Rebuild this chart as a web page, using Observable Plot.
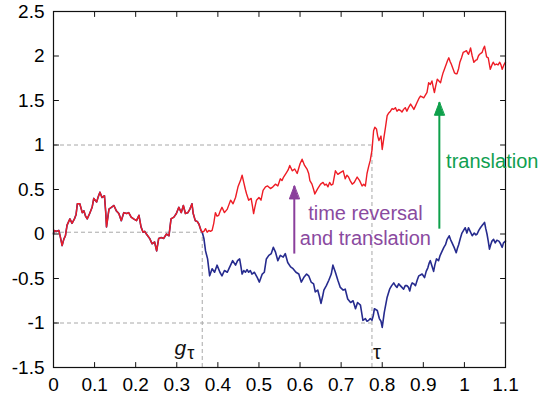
<!DOCTYPE html>
<html><head><meta charset="utf-8">
<script src="https://cdn.jsdelivr.net/npm/d3@7"></script>
<script src="https://cdn.jsdelivr.net/npm/@observablehq/plot@0.6"></script>
<style>body{margin:0;background:#fff}</style>
</head><body><div id="chart"></div>
<script>
const xTicks = [0,0.1,0.2,0.3,0.4,0.5,0.6,0.7,0.8,0.9,1,1.1];
const xTickLabels = ["0","0.1","0.2","0.3","0.4","0.5","0.6","0.7","0.8","0.9","1","1.1"];
const yTicks = [-1.5,-1,-0.5,0,0.5,1,1.5,2,2.5];
const yTickLabels = ["-1.5","-1","-0.5","0","0.5","1","1.5","2","2.5"];

const gTau = 0.362, tau = 0.775;

// shared path before g_tau (t, value)
const commonPath = [[0,0.0],[0.001,0.04],[0.007,0.03],[0.013,0.04],[0.017,-0.04],[0.021,-0.13],[0.025,-0.06],[0.029,-0.02],[0.033,0.1],[0.04,0.17],[0.045,0.12],[0.051,0.17],[0.055,0.22],[0.058,0.34],[0.064,0.34],[0.07,0.24],[0.074,0.26],[0.078,0.2],[0.082,0.17],[0.088,0.23],[0.094,0.3],[0.098,0.4],[0.105,0.36],[0.109,0.42],[0.113,0.47],[0.118,0.41],[0.124,0.43],[0.127,0.25],[0.129,0.08],[0.135,0.28],[0.141,0.3],[0.147,0.32],[0.153,0.26],[0.159,0.23],[0.165,0.15],[0.171,0.24],[0.178,0.23],[0.183,0.24],[0.189,0.19],[0.195,0.17],[0.202,0.15],[0.208,0.21],[0.213,0.08],[0.218,0.02],[0.222,0.03],[0.226,0.0],[0.234,-0.05],[0.24,-0.11],[0.246,-0.09],[0.251,-0.19],[0.256,-0.05],[0.262,-0.04],[0.268,-0.05],[0.275,0.0],[0.281,-0.02],[0.286,0.17],[0.293,0.19],[0.299,0.23],[0.305,0.3],[0.311,0.24],[0.316,0.32],[0.321,0.23],[0.327,0.24],[0.332,0.28],[0.337,0.34],[0.34,0.23],[0.345,0.15],[0.35,0.14],[0.354,0.11],[0.359,0.04],[0.362,0.02]];

// blue path after g_tau
const bluePath = [[0.366,-0.05],[0.37,-0.19],[0.375,-0.28],[0.38,-0.47],[0.386,-0.39],[0.392,-0.43],[0.398,-0.35],[0.405,-0.43],[0.41,-0.47],[0.416,-0.41],[0.423,-0.43],[0.427,-0.39],[0.431,-0.35],[0.436,-0.3],[0.443,-0.35],[0.448,-0.3],[0.453,-0.28],[0.456,-0.36],[0.459,-0.45],[0.463,-0.41],[0.467,-0.43],[0.471,-0.4],[0.475,-0.43],[0.479,-0.41],[0.483,-0.45],[0.489,-0.43],[0.496,-0.49],[0.501,-0.54],[0.508,-0.45],[0.513,-0.43],[0.518,-0.28],[0.524,-0.24],[0.53,-0.22],[0.535,-0.15],[0.54,-0.2],[0.546,-0.3],[0.552,-0.24],[0.559,-0.26],[0.564,-0.22],[0.57,-0.32],[0.577,-0.37],[0.583,-0.39],[0.59,-0.43],[0.597,-0.45],[0.603,-0.54],[0.609,-0.49],[0.616,-0.45],[0.621,-0.47],[0.627,-0.54],[0.633,-0.56],[0.637,-0.65],[0.643,-0.63],[0.647,-0.7],[0.651,-0.78],[0.655,-0.7],[0.658,-0.63],[0.664,-0.58],[0.67,-0.52],[0.676,-0.45],[0.68,-0.35],[0.686,-0.43],[0.692,-0.52],[0.698,-0.6],[0.705,-0.63],[0.71,-0.62],[0.716,-0.73],[0.723,-0.77],[0.729,-0.75],[0.735,-0.84],[0.74,-0.77],[0.747,-0.8],[0.753,-0.97],[0.759,-0.95],[0.763,-0.98],[0.767,-0.97],[0.771,-0.95],[0.775,-0.97],[0.778,-0.92],[0.781,-0.84],[0.788,-0.86],[0.793,-0.95],[0.797,-0.98],[0.8,-1.05],[0.805,-0.88],[0.812,-0.71],[0.818,-0.62],[0.823,-0.58],[0.828,-0.55],[0.832,-0.58],[0.836,-0.6],[0.84,-0.56],[0.844,-0.58],[0.848,-0.6],[0.852,-0.62],[0.856,-0.58],[0.86,-0.58],[0.864,-0.6],[0.867,-0.64],[0.87,-0.58],[0.873,-0.55],[0.877,-0.56],[0.881,-0.58],[0.885,-0.52],[0.889,-0.47],[0.893,-0.46],[0.897,-0.45],[0.9,-0.47],[0.903,-0.49],[0.907,-0.42],[0.911,-0.38],[0.914,-0.33],[0.917,-0.3],[0.921,-0.36],[0.925,-0.42],[0.928,-0.35],[0.932,-0.28],[0.937,-0.3],[0.941,-0.24],[0.946,-0.19],[0.95,-0.15],[0.954,-0.12],[0.958,-0.06],[0.963,-0.02],[0.966,-0.06],[0.97,-0.1],[0.975,-0.15],[0.98,-0.21],[0.983,-0.16],[0.986,-0.12],[0.99,-0.05],[0.994,0.01],[0.998,0.04],[1.002,0.07],[1.006,0.01],[1.01,0.07],[1.014,0.03],[1.019,-0.02],[1.024,0.01],[1.028,-0.01],[1.031,0.0],[1.035,0.04],[1.039,0.07],[1.044,0.1],[1.049,0.13],[1.052,0.06],[1.055,0.0],[1.058,-0.08],[1.061,-0.17],[1.064,-0.12],[1.067,-0.08],[1.071,-0.06],[1.075,-0.1],[1.079,-0.07],[1.084,-0.08],[1.088,-0.11],[1.092,-0.15],[1.095,-0.1],[1.1,-0.08]];

// red path after g_tau
const redPath = [[0.366,0.03],[0.37,0.06],[0.374,0.02],[0.378,0.04],[0.382,0.03],[0.386,0.04],[0.39,0.12],[0.394,0.24],[0.398,0.2],[0.402,0.21],[0.406,0.26],[0.41,0.3],[0.416,0.24],[0.423,0.28],[0.427,0.33],[0.431,0.38],[0.437,0.34],[0.443,0.41],[0.449,0.53],[0.455,0.6],[0.459,0.66],[0.463,0.58],[0.467,0.5],[0.47,0.45],[0.475,0.38],[0.481,0.4],[0.484,0.32],[0.487,0.23],[0.49,0.3],[0.494,0.38],[0.5,0.41],[0.505,0.38],[0.51,0.49],[0.516,0.53],[0.521,0.54],[0.528,0.51],[0.534,0.53],[0.54,0.56],[0.546,0.54],[0.552,0.62],[0.556,0.6],[0.56,0.64],[0.567,0.69],[0.571,0.72],[0.575,0.77],[0.581,0.71],[0.587,0.73],[0.593,0.68],[0.6,0.79],[0.605,0.84],[0.611,0.77],[0.617,0.73],[0.621,0.68],[0.624,0.6],[0.629,0.56],[0.633,0.5],[0.636,0.45],[0.643,0.51],[0.65,0.56],[0.656,0.58],[0.66,0.55],[0.664,0.56],[0.668,0.53],[0.672,0.58],[0.676,0.55],[0.68,0.56],[0.686,0.71],[0.692,0.67],[0.698,0.69],[0.705,0.71],[0.71,0.62],[0.714,0.66],[0.718,0.64],[0.722,0.6],[0.727,0.56],[0.732,0.58],[0.739,0.64],[0.745,0.6],[0.751,0.54],[0.755,0.56],[0.759,0.54],[0.763,0.68],[0.767,0.76],[0.771,0.83],[0.775,0.94],[0.779,1.16],[0.782,1.2],[0.786,1.18],[0.789,1.1],[0.792,1.05],[0.795,1.08],[0.797,1.1],[0.8,0.95],[0.804,1.08],[0.808,1.2],[0.812,1.33],[0.816,1.36],[0.82,1.38],[0.824,1.41],[0.828,1.4],[0.832,1.42],[0.836,1.38],[0.84,1.4],[0.844,1.39],[0.848,1.37],[0.852,1.4],[0.856,1.42],[0.86,1.38],[0.864,1.42],[0.869,1.46],[0.873,1.43],[0.877,1.4],[0.881,1.44],[0.885,1.48],[0.889,1.52],[0.893,1.55],[0.897,1.54],[0.901,1.53],[0.905,1.56],[0.909,1.59],[0.913,1.7],[0.917,1.68],[0.921,1.72],[0.924,1.65],[0.927,1.59],[0.93,1.66],[0.934,1.74],[0.938,1.72],[0.942,1.7],[0.945,1.76],[0.948,1.81],[0.952,1.86],[0.956,1.91],[0.959,1.95],[0.962,1.98],[0.965,1.94],[0.968,1.91],[0.972,1.86],[0.976,1.81],[0.979,1.8],[0.982,1.8],[0.986,1.86],[0.989,1.93],[0.993,1.98],[0.997,2.04],[1.001,2.05],[1.005,2.06],[1.008,2.03],[1.01,2.02],[1.013,2.06],[1.015,2.09],[1.019,2.0],[1.023,1.93],[1.027,1.95],[1.031,1.96],[1.034,2.0],[1.037,2.02],[1.04,2.03],[1.043,2.04],[1.046,2.08],[1.049,2.11],[1.052,2.04],[1.054,1.99],[1.058,1.98],[1.061,1.9],[1.063,1.85],[1.067,1.9],[1.07,1.93],[1.074,1.9],[1.078,1.91],[1.082,1.9],[1.086,1.93],[1.089,1.9],[1.092,1.85],[1.096,1.9],[1.1,1.93]];

// dashed guide lines
const hGuides = [{y:1, x1:0, x2:tau}, {y:0.02, x1:0, x2:gTau}, {y:-1, x1:0, x2:tau}];
const vGuides = [{x:gTau, y1:-1.5, y2:0.02}, {x:tau, y1:-1.5, y2:1}];

// annotation arrows (x, from, to)
const arrows = [
  {x:0.586, y1:-0.22, y2:0.54, color:"#8a3f9c"},
  {x:0.939, y1:0.06, y2:1.48, color:"#0ea04b"}
];

const toRows = a => a.map(([t, v]) => ({t, v}));
const blueRows = toRows(commonPath.concat(bluePath));
const redRows = toRows(commonPath.concat(redPath));

const tickLine = {draw(ctx, l) { ctx.moveTo(0, 0); ctx.lineTo(0, -l); }};
const head = {draw(ctx, l) { ctx.moveTo(0, 0); ctx.lineTo(-l * 0.38, l); ctx.lineTo(l * 0.38, l); ctx.closePath(); }};

const chart = Plot.plot({
  width: 539, height: 401,
  marginLeft: 53, marginRight: 34, marginTop: 11, marginBottom: 34,
  style: {fontFamily: "'Liberation Sans', Arial, sans-serif", fontSize: "19px", background: "white", color: "black"},
  x: {domain: [0, 1.1], label: null},
  y: {domain: [-1.5, 2.5], label: null},
  marks: [
    Plot.ruleY(hGuides, {y: "y", x1: "x1", x2: "x2", stroke: "#a8a8a8", strokeDasharray: "4,3", strokeWidth: 1}),
    Plot.ruleX(vGuides, {x: "x", y1: "y1", y2: "y2", stroke: "#a8a8a8", strokeDasharray: "4,3", strokeWidth: 1}),
    Plot.line(blueRows, {x: "t", y: "v", stroke: "#262b8e", strokeWidth: 1.6}),
    Plot.line(redRows, {x: "t", y: "v", stroke: "#ee1c25", strokeWidth: 1.4}),
    Plot.frame({stroke: "#111", strokeWidth: 1.2}),
    Plot.vector(xTicks, {x: d => d, y: -1.5, length: 5, rotate: 0, anchor: "start", shape: tickLine, stroke: "#111", strokeWidth: 1}),
    Plot.vector(xTicks, {x: d => d, y: 2.5, length: 5, rotate: 180, anchor: "start", shape: tickLine, stroke: "#111", strokeWidth: 1}),
    Plot.vector(yTicks, {x: 0, y: d => d, length: 5, rotate: 90, anchor: "start", shape: tickLine, stroke: "#111", strokeWidth: 1}),
    Plot.vector(yTicks, {x: 1.1, y: d => d, length: 5, rotate: -90, anchor: "start", shape: tickLine, stroke: "#111", strokeWidth: 1}),
    Plot.axisX(xTicks, {anchor: "bottom", tickSize: 0, tickPadding: 10, tickFormat: d => xTickLabels[xTicks.indexOf(d)], fontSize: 19, label: null}),
    Plot.axisY(yTicks, {anchor: "left", tickSize: 0, tickPadding: 9, tickFormat: d => yTickLabels[yTicks.indexOf(d)], fontSize: 19, label: null}),
    Plot.link(arrows, {x1: "x", x2: "x", y1: "y1", y2: "y2", stroke: "color", strokeWidth: 2}),
    Plot.vector(arrows, {x: "x", y: "y2", length: 13, rotate: 0, anchor: "start", shape: head, fill: "color", stroke: "color", strokeWidth: 1}),
    Plot.text(["time reversal\nand translation"], {x: 0.759, y: -0.129, text: d => d, lineAnchor: "bottom", textAnchor: "middle", lineHeight: 1.25, fontSize: 20, fill: "#8a4a9f"}),
    Plot.text(["translation"], {x: 0.9555, y: 0.736, text: d => d, lineAnchor: "bottom", textAnchor: "start", fontSize: 20, fill: "#10a050"}),
    Plot.text(["g"], {x: gTau, y: -1.365, text: d => d, dx: -16, lineAnchor: "bottom", textAnchor: "end", fontSize: 21, fontStyle: "italic", fill: "#111"}),
    Plot.text(["τ"], {x: gTau, y: -1.41, text: d => d, dx: -15, lineAnchor: "bottom", textAnchor: "start", fontSize: 18, fill: "#111"}),
    Plot.text(["τ"], {x: tau, y: -1.40, text: d => d, dx: 1, lineAnchor: "bottom", textAnchor: "start", fontSize: 20, fill: "#111"})
  ]
});
document.getElementById("chart").appendChild(chart);
</script>
</body></html>
